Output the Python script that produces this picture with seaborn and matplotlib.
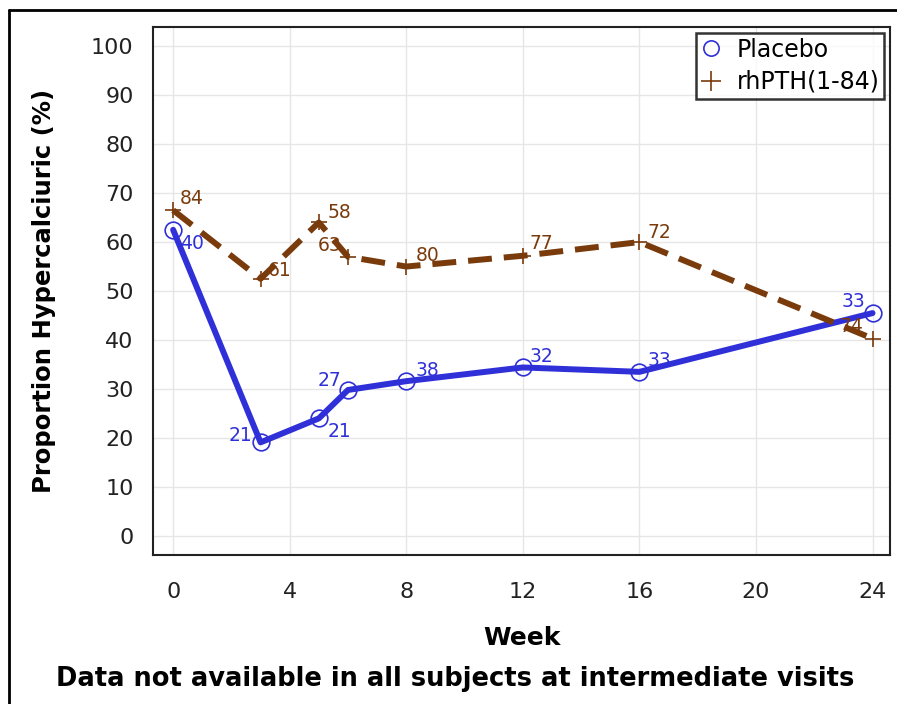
import matplotlib
matplotlib.use('Agg')
import matplotlib.pyplot as plt
import seaborn as sns
import pandas as pd
from matplotlib.lines import Line2D

# Datos
weeks = [0, 3, 5, 6, 8, 12, 16, 24]
placebo_pct = [62.5, 19.1, 24.0, 29.8, 31.6, 34.4, 33.5, 45.5]
placebo_n = [40, 21, 21, 27, 38, 32, 33, 33]
rhpth_pct = [66.5, 52.5, 64.0, 57.0, 55.0, 57.2, 60.0, 40.3]
rhpth_n = [84, 61, 58, 63, 80, 77, 72, 74]

# posiciones de las etiquetas (offset en puntos, alineacion)
placebo_off = [(5, -9.5, 'left'), (-6, 5, 'right'), (6.5, -9.5, 'left'), (-5, 6.5, 'right'),
               (6.5, 8, 'left'), (5, 8, 'left'), (6, 8.5, 'left'), (-5, 8.5, 'right')]
rhpth_off = [(5, 8.5, 'left'), (5, 6, 'left'), (6, 7, 'left'), (-5, 8, 'right'),
             (6.5, 8, 'left'), (5, 8.5, 'left'), (6, 7, 'left'), (-6.5, 9, 'right')]

df = pd.DataFrame({
    'Week': weeks * 2,
    'Pct': placebo_pct + rhpth_pct,
    'Group': ['Placebo'] * len(weeks) + ['rhPTH(1-84)'] * len(weeks),
})

blue = '#3030D8'
brown = '#7A3B0C'

sns.set_style('white')
plt.rcParams['font.family'] = ['DejaVu Sans']
plt.rcParams['text.color'] = 'black'
plt.rcParams['axes.labelcolor'] = 'black'

fig = plt.figure(figsize=(8.97, 7.04), dpi=100)
ax = fig.add_axes([0.1706, 0.2116, 0.8216, 0.75])

sns.lineplot(data=df[df.Group == 'Placebo'], x='Week', y='Pct', ax=ax,
             color=blue, linewidth=4.3, marker='o', markersize=12,
             markerfacecolor='none', markeredgecolor=blue, markeredgewidth=1.2,
             legend=False)
sns.lineplot(data=df[df.Group == 'rhPTH(1-84)'], x='Week', y='Pct', ax=ax,
             color=brown, linewidth=4.3, marker='+', markersize=12,
             markeredgecolor=brown, markeredgewidth=1.2,
             legend=False)
ax.lines[1].set_dashes([4, 2])

for w, p, n, (dx, dy, ha) in zip(weeks, placebo_pct, placebo_n, placebo_off):
    ax.annotate(str(n), (w, p), xytext=(dx, dy), textcoords='offset points',
                color=blue, fontsize=13.5, ha=ha, va='center')
for w, p, n, (dx, dy, ha) in zip(weeks, rhpth_pct, rhpth_n, rhpth_off):
    ax.annotate(str(n), (w, p), xytext=(dx, dy), textcoords='offset points',
                color=brown, fontsize=13.5, ha=ha, va='center')

ax.set_xlim(-0.69, 24.6)
ax.set_ylim(-3.9, 103.9)
ax.set_xticks(range(0, 25, 4))
ax.set_yticks(range(0, 101, 10))
ax.grid(True, color='#e6e6e6', linewidth=1)
ax.set_axisbelow(True)
for s in ax.spines.values():
    s.set_color('#222222')
    s.set_linewidth(1.5)
ax.tick_params(axis='both', direction='out', length=7, width=1.3,
               labelsize=16, color='#222222', labelcolor='#222222', pad=7)
ax.tick_params(axis='x', pad=12.5)

ax.set_xlabel('Week', fontsize=18, fontweight='bold', labelpad=17)
ax.set_ylabel('Proportion Hypercalciuric (%)', fontsize=17.5, fontweight='bold', labelpad=25)

handles = [
    Line2D([], [], linestyle='none', marker='o', markersize=11,
           markerfacecolor='none', markeredgecolor=blue, markeredgewidth=1.2),
    Line2D([], [], linestyle='none', marker='+', markersize=14,
           markeredgecolor=brown, markeredgewidth=1.2),
]
leg = ax.legend(handles, ['Placebo', 'rhPTH(1-84)'], loc='upper right',
                fontsize=17, frameon=True, fancybox=False, handlelength=0.8,
                handletextpad=0.7, borderpad=0.2, labelspacing=0.35,
                borderaxespad=0, bbox_to_anchor=(0.992, 0.989))
leg.get_frame().set_edgecolor('black')
leg.get_frame().set_linewidth(1.8)

fig.text(0.508, 0.0355, 'Data not available in all subjects at intermediate visits',
         ha='center', va='center', fontsize=18.5, fontweight='bold')

# marco exterior (solo izquierda y arriba visibles)
fig.add_artist(Line2D([0.0095, 0.0095], [0.0, 0.986], transform=fig.transFigure,
                      color='black', linewidth=2))
fig.add_artist(Line2D([0.0095, 1.0], [0.986, 0.986], transform=fig.transFigure,
                      color='black', linewidth=2))

fig.savefig('out.png', dpi=100)
